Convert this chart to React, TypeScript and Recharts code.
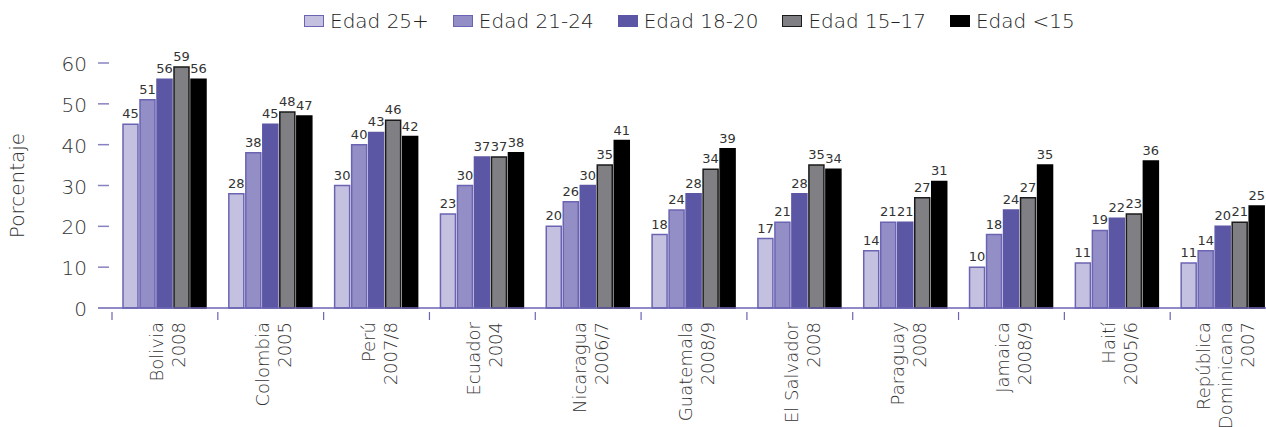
import React from "react";
import { BarChart, Bar, XAxis, YAxis, Legend, LabelList } from "recharts";

// Countries / survey years (each entry split into lines)
const categories: string[][] = [
  ["Bolivia", "2008"],
  ["Colombia", "2005"],
  ["Perú", "2007/8"],
  ["Ecuador", "2004"],
  ["Nicaragua", "2006/7"],
  ["Guatemala", "2008/9"],
  ["El Salvador", "2008"],
  ["Paraguay", "2008"],
  ["Jamaica", "2008/9"],
  ["Haití", "2005/6"],
  ["República", "Dominicana", "2007"],
];

// Percentages by age group
const edad25mas = [45, 28, 30, 23, 20, 18, 17, 14, 10, 11, 11];
const edad21a24 = [51, 38, 40, 30, 26, 24, 21, 21, 18, 19, 14];
const edad18a20 = [56, 45, 43, 37, 30, 28, 28, 21, 24, 22, 20];
const edad15a17 = [59, 48, 46, 37, 35, 34, 35, 27, 27, 23, 21];
const edadMenos15 = [56, 47, 42, 38, 41, 39, 34, 31, 35, 36, 25];

const yTicks = [0, 10, 20, 30, 40, 50, 60];

const data = categories.map((lines, i) => ({
  name: lines.join("\n"),
  e25: edad25mas[i],
  e21: edad21a24[i],
  e18: edad18a20[i],
  e15: edad15a17[i],
  e0: edadMenos15[i],
}));

const series = [
  { key: "e25", name: "Edad 25+", fill: "#c4c1e0", stroke: "#6b64b3" },
  { key: "e21", name: "Edad 21-24", fill: "#938ec6", stroke: "#6b64b3" },
  { key: "e18", name: "Edad 18-20", fill: "#5c57a5", stroke: "#5c57a5" },
  { key: "e15", name: "Edad 15–17", fill: "#808084", stroke: "#1a1a1a" },
  { key: "e0", name: "Edad <15", fill: "#000000", stroke: "#000000" },
];

const FONT = "'DejaVu Sans', sans-serif";
const AXIS_PURPLE = "#6b64b3";
const TEXT = "#333333";

const CHART_W = 1276;
const CHART_H = 427;
const Y_AXIS_W = 98;
const X_AXIS_H = 30;
const PAD_LEFT = 14;
const BAND = (CHART_W - Y_AXIS_W - PAD_LEFT) / categories.length;

const XTick = (props: any) => {
  const { x, y, payload } = props;
  const lines = String(payload.value).split("\n");
  const n = lines.length;
  const left = x - BAND / 2;
  return (
    <g>
      <line x1={left} x2={left} y1={y - 10} y2={y - 2} stroke={AXIS_PURPLE} strokeWidth={1.2} />
      <g transform={`translate(${x + 2},${y}) rotate(-90)`}>
        <text textAnchor="end" fontSize={18} fill={TEXT} fontFamily={FONT} fontWeight={200}>
          {lines.map((l, i) => (
            <tspan key={i} x={0} dy={i === 0 ? -(n - 1) * 11 + 7 : 22}>
              {l}
            </tspan>
          ))}
        </text>
      </g>
    </g>
  );
};

const YTick = (props: any) => {
  const { x, y, payload } = props;
  return (
    <g>
      {payload.value !== 0 && (
        <line x1={x + 11} x2={x + 22} y1={y} y2={y} stroke={AXIS_PURPLE} strokeWidth={1.5} opacity={0.8} />
      )}
      <text x={x} y={y} dy={8} textAnchor="end" fontSize={20} fill={TEXT} fontFamily={FONT} fontWeight={200}>
        {payload.value}
      </text>
    </g>
  );
};

const YLabel = (props: any) => {
  const vb = props.viewBox;
  const cx = 24;
  const cy = vb.y + vb.height / 2;
  return (
    <text
      x={cx}
      y={cy}
      transform={`rotate(-90, ${cx}, ${cy})`}
      textAnchor="middle"
      fontSize={20}
      fill={TEXT}
      fontFamily={FONT}
      fontWeight={200}
    >
      Porcentaje
    </text>
  );
};

const LegendContent = () => (
  <div
    style={{
      display: "flex",
      alignItems: "center",
      fontFamily: FONT,
      fontSize: 20,
      fontWeight: 200,
      color: "#222222",
      whiteSpace: "nowrap",
    }}
  >
    {series.map((s) => (
      <div key={s.key} style={{ display: "flex", alignItems: "center", marginRight: 24 }}>
        <span
          style={{
            display: "inline-block",
            width: 20,
            height: 12,
            background: s.fill,
            border: `1.5px solid ${s.stroke}`,
            marginRight: 6,
            boxSizing: "border-box",
          }}
        />
        <span>{s.name}</span>
      </div>
    ))}
  </div>
);

export default function App() {
  return (
    <div
      style={{
        position: "absolute",
        left: 0,
        top: 0,
        width: 1266,
        height: 427,
        overflow: "hidden",
        background: "#ffffff",
      }}
    >
      <BarChart
        width={CHART_W}
        height={CHART_H}
        data={data}
        margin={{ top: 63, right: 0, bottom: CHART_H - 308 - X_AXIS_H, left: 0 }}
        barSize={15}
        barGap={2}
      >
        <Legend
          verticalAlign="middle"
          align="center"
          layout="horizontal"
          wrapperStyle={{ top: 9, left: 304, width: "auto" }}
          content={<LegendContent />}
        />
        <XAxis
          dataKey="name"
          interval={0}
          height={X_AXIS_H}
          padding={{ left: PAD_LEFT, right: 0 }}
          axisLine={{ stroke: AXIS_PURPLE, strokeWidth: 1.5 }}
          tickLine={false}
          tickSize={0}
          tickMargin={14}
          tick={<XTick />}
        />
        <YAxis
          width={Y_AXIS_W}
          domain={[0, 60]}
          ticks={yTicks}
          axisLine={false}
          tickLine={false}
          tickSize={0}
          tickMargin={11}
          tick={<YTick />}
          label={<YLabel />}
        />
        {series.map((s) => (
          <Bar
            key={s.key}
            dataKey={s.key}
            name={s.name}
            fill={s.fill}
            stroke={s.stroke}
            strokeWidth={1.5}
            isAnimationActive={false}
          >
            <LabelList
              dataKey={s.key}
              position="top"
              offset={6}
              fontSize={13}
              fill={TEXT}
              fontFamily={FONT}
            />
          </Bar>
        ))}
      </BarChart>
    </div>
  );
}
